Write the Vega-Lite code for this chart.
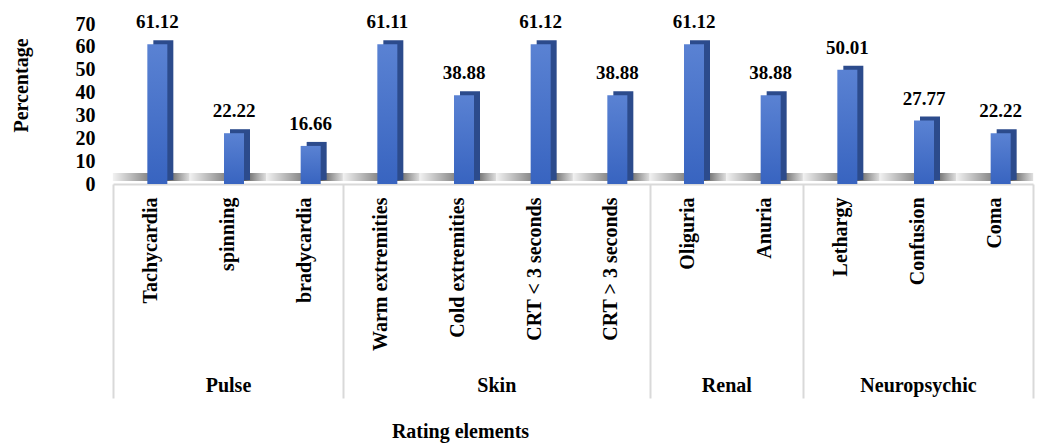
{
  "$schema": "https://vega.github.io/schema/vega-lite/v6.json",
  "autosize": "none",
  "width": 920,
  "height": 160,
  "padding": {"left": 113, "top": 24, "right": 4, "bottom": 261},
  "background": "white",
  "config": {
    "view": {"stroke": null},
    "font": "Liberation Serif"
  },
  "data": {
    "values": [
      {"group": "Pulse", "category": "Tachycardia", "value": 61.12, "order": 0},
      {"group": "Pulse", "category": "spinning", "value": 22.22, "order": 1},
      {"group": "Pulse", "category": "bradycardia", "value": 16.66, "order": 2},
      {"group": "Skin", "category": "Warm extremities", "value": 61.11, "order": 3},
      {"group": "Skin", "category": "Cold extremities", "value": 38.88, "order": 4},
      {"group": "Skin", "category": "CRT < 3 seconds", "value": 61.12, "order": 5},
      {"group": "Skin", "category": "CRT > 3 seconds", "value": 38.88, "order": 6},
      {"group": "Renal", "category": "Oliguria", "value": 61.12, "order": 7},
      {"group": "Renal", "category": "Anuria", "value": 38.88, "order": 8},
      {"group": "Neuropsychic", "category": "Lethargy", "value": 50.01, "order": 9},
      {"group": "Neuropsychic", "category": "Confusion", "value": 27.77, "order": 10},
      {"group": "Neuropsychic", "category": "Coma", "value": 22.22, "order": 11}
    ]
  },
  "layer": [
    {
      "encoding": {
        "x": {
          "field": "category",
          "type": "nominal",
          "sort": {"field": "order", "op": "min"},
          "scale": {"paddingInner": 0, "paddingOuter": 0},
          "axis": {
            "orient": "bottom",
            "title": null,
            "labelAngle": -90,
            "labelFont": "Liberation Serif",
            "labelFontSize": 20,
            "labelFontWeight": "bold",
            "labelColor": "black",
            "labelPadding": 13,
            "labelLimit": 400,
            "labelOverlap": false,
            "ticks": false,
            "domain": true,
            "domainColor": "#d9d9d9",
            "domainWidth": 2,
            "grid": false
          }
        },
        "y": {
          "field": "value",
          "type": "quantitative",
          "scale": {"domain": [0, 70], "nice": false},
          "axis": {
            "values": [0, 10, 20, 30, 40, 50, 60, 70],
            "title": "Percentage",
            "titleFont": "Liberation Serif",
            "titleFontSize": 20,
            "titleFontWeight": "bold",
            "titleColor": "black",
            "titlePadding": 44,
            "titleY": 61,
            "labelFont": "Liberation Serif",
            "labelFontSize": 20,
            "labelFontWeight": "bold",
            "labelColor": "black",
            "labelPadding": 18,
            "domain": false,
            "ticks": false,
            "grid": false
          }
        }
      },
      "layer": [
        {
          "mark": {
            "type": "tick",
            "thickness": 8,
            "size": 77,
            "yOffset": -7,
            "opacity": 1,
            "color": {
              "gradient": "linear",
              "x1": 0, "y1": 0, "x2": 1, "y2": 0,
              "stops": [
                {"offset": 0, "color": "#f2f2f2"},
                {"offset": 0.45, "color": "#8a8a8a"},
                {"offset": 0.68, "color": "#4a4a4a"},
                {"offset": 1, "color": "#e0e0e0"}
              ]
            }
          },
          "encoding": {"y": {"datum": 0}}
        },
        {
          "mark": {"type": "bar", "width": 20, "xOffset": 12, "yOffset": -4, "color": "#2c4b8c"}
        },
        {
          "mark": {
            "type": "bar",
            "width": 20,
            "xOffset": 6,
            "color": {
              "gradient": "linear",
              "x1": 0, "y1": 0, "x2": 0, "y2": 1,
              "stops": [
                {"offset": 0, "color": "#5a82d3"},
                {"offset": 1, "color": "#3864c0"}
              ]
            }
          }
        },
        {
          "mark": {
            "type": "text",
            "dx": 6,
            "dy": -16,
            "baseline": "alphabetic",
            "font": "Liberation Serif",
            "fontSize": 19,
            "fontWeight": "bold",
            "color": "black"
          },
          "encoding": {"text": {"field": "value", "type": "quantitative", "format": ".2f"}}
        }
      ]
    },
    {
      "mark": {"type": "point", "opacity": 0},
      "encoding": {
        "x": {
          "field": "order",
          "type": "quantitative",
          "scale": {"domain": [0, 12], "nice": false, "zero": false},
          "axis": {
            "orient": "bottom",
            "values": [0, 3, 7, 9, 12],
            "labels": false,
            "domain": false,
            "grid": false,
            "ticks": true,
            "tickSize": 214,
            "tickColor": "#d9d9d9",
            "tickWidth": 2,
            "title": null
          }
        }
      }
    },
    {
      "mark": {"type": "point", "opacity": 0},
      "encoding": {
        "x": {
          "field": "order",
          "type": "quantitative",
          "scale": {"domain": [0, 12], "nice": false, "zero": false},
          "axis": {
            "orient": "bottom",
            "values": [1.5, 5, 8, 10.5],
            "labelExpr": "datum.value == 1.5 ? 'Pulse' : datum.value == 5 ? 'Skin' : datum.value == 8 ? 'Renal' : 'Neuropsychic'",
            "labelFont": "Liberation Serif",
            "labelFontSize": 20,
            "labelFontWeight": "bold",
            "labelColor": "black",
            "labelPadding": 191,
            "labelOverlap": false,
            "labelFlush": false,
            "domain": false,
            "grid": false,
            "ticks": false,
            "title": "Rating elements",
            "titleFont": "Liberation Serif",
            "titleFontSize": 20,
            "titleFontWeight": "bold",
            "titleColor": "black",
            "titlePadding": 37,
            "titleX": 347
          }
        }
      }
    }
  ],
  "resolve": {"scale": {"x": "independent"}, "axis": {"x": "independent"}}
}
